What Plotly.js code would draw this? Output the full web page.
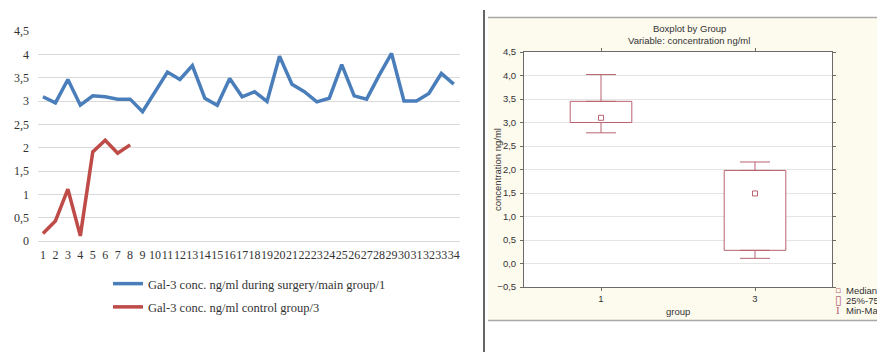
<!DOCTYPE html>
<html>
<head>
<meta charset="utf-8">
<script src="https://cdn.plot.ly/plotly-3.0.1.min.js"></script>
<style>html,body{margin:0;padding:0;background:#fff;}#chart{width:877px;height:352px;}</style>
</head>
<body>
<div id="chart"></div>
<script>
// ---- Left chart data (line chart) ----
const patientIdx = [1,2,3,4,5,6,7,8,9,10,11,12,13,14,15,16,17,18,19,20,21,22,23,24,25,26,27,28,29,30,31,32,33,34];
const mainGroup = [3.09,2.96,3.46,2.91,3.11,3.09,3.04,3.04,2.77,3.2,3.62,3.46,3.76,3.06,2.91,3.48,3.09,3.2,2.99,3.96,3.36,3.2,2.98,3.06,3.78,3.11,3.04,3.55,4.02,3.0,3.0,3.16,3.59,3.36];
const controlIdx = [1,2,3,4,5,6,7,8];
const controlGroup = [0.16,0.43,1.11,0.11,1.91,2.16,1.88,2.06];
const seriesNames = ["Gal-3 conc. ng/ml during surgery/main group/1", "Gal-3 conc. ng/ml control group/3"];

// ---- Right chart data (boxplot summary) ----
const groups = ["1", "3"];
const minVals = [2.78, 0.11];
const q1Vals = [3.0, 0.28];
const medianVals = [3.1, 1.49];
const q3Vals = [3.45, 1.98];
const maxVals = [4.02, 2.16];
const boxLegend = ["Median", "25%-75%", "Min-Max"];

const W = 877, H = 352;
const px = v => v / W;
const py = v => (H - v) / H;

const blue = '#4A7EBB';
const red = '#BE4B48';
const boxColor = '#B9636E';
const serif = 'Liberation Serif, Times New Roman, serif';
const sans = 'Liberation Sans, Arial, sans-serif';

const traces = [
  {x: patientIdx, y: mainGroup, type: 'scatter', mode: 'lines', name: seriesNames[0],
   line: {color: blue, width: 3.5}, xaxis: 'x', yaxis: 'y', legendgroup: 'a'},
  {x: controlIdx, y: controlGroup, type: 'scatter', mode: 'lines', name: seriesNames[1],
   line: {color: red, width: 3.5}, xaxis: 'x', yaxis: 'y', legendgroup: 'b'},
  // box body
  {x: groups, base: q1Vals, y: q3Vals.map((v, i) => v - q1Vals[i]), type: 'bar', width: 0.4,
   marker: {color: '#ffffff', line: {color: boxColor, width: 1}},
   xaxis: 'x2', yaxis: 'y2', showlegend: false, hoverinfo: 'skip'},
  // upper whisker
  {x: groups, y: q3Vals, type: 'scatter', mode: 'markers', marker: {size: 1, opacity: 0},
   error_y: {type: 'data', symmetric: false, array: maxVals.map((v, i) => v - q3Vals[i]),
             arrayminus: groups.map(() => 0), color: boxColor, thickness: 1, width: 15},
   xaxis: 'x2', yaxis: 'y2', showlegend: false, hoverinfo: 'skip'},
  // lower whisker
  {x: groups, y: q1Vals, type: 'scatter', mode: 'markers', marker: {size: 1, opacity: 0},
   error_y: {type: 'data', symmetric: false, array: groups.map(() => 0),
             arrayminus: q1Vals.map((v, i) => v - minVals[i]), color: boxColor, thickness: 1, width: 15},
   xaxis: 'x2', yaxis: 'y2', showlegend: false, hoverinfo: 'skip'},
  // median
  {x: groups, y: medianVals, type: 'scatter', mode: 'markers',
   marker: {symbol: 'square-open', size: 5, color: boxColor, line: {width: 1, color: boxColor}},
   xaxis: 'x2', yaxis: 'y2', showlegend: false}
];

function ann(text, x, y, font, extra) {
  return Object.assign({text: text, xref: 'paper', yref: 'paper', x: px(x), y: py(y),
    xanchor: 'center', yanchor: 'middle', showarrow: false, font: font}, extra || {});
}
const smallFont = {family: sans, size: 9.5, color: '#333'};

const layout = {
  width: W, height: H,
  margin: {l: 0, r: 0, t: 0, b: 0},
  paper_bgcolor: '#ffffff', plot_bgcolor: '#ffffff',
  separators: ',.',
  showlegend: true,
  legend: {x: px(108), y: py(269), xanchor: 'left', yanchor: 'top',
           font: {family: serif, size: 12.5, color: '#333'}, bgcolor: 'rgba(0,0,0,0)',
           traceorder: 'grouped', tracegroupgap: 4},
  xaxis: {domain: [px(38), px(460)], range: [0.6, 34.5], dtick: 1, tick0: 1, tickangle: 0,
          showgrid: false, zeroline: false, showline: false, ticks: '',
          tickfont: {family: serif, size: 12, color: '#333'}, ticklabelstandoff: 5, anchor: 'y'},
  yaxis: {domain: [py(241), py(31)], range: [0, 4.5], dtick: 0.5, tick0: 0,
          gridcolor: '#d9d9d9', gridwidth: 1, zeroline: true, zerolinecolor: '#d9d9d9', zerolinewidth: 1,
          showline: false, ticks: '',
          tickfont: {family: serif, size: 12, color: '#333'}, ticklabelstandoff: 8, anchor: 'x'},
  xaxis2: {domain: [px(524), px(832)], type: 'category', categoryorder: 'array', categoryarray: groups,
           range: [-0.5, 1.5], showgrid: false, zeroline: false,
           showline: true, linecolor: '#6b6b6b', linewidth: 1, mirror: 'ticks',
           ticks: 'outside', ticklen: 3, tickcolor: '#6b6b6b',
           tickfont: {family: sans, size: 9.5, color: '#333'}, anchor: 'y2'},
  yaxis2: {domain: [py(287), py(52)], range: [-0.5, 4.5], dtick: 0.5, tick0: 0, tickformat: '.1f',
           gridcolor: '#e4e4e4', gridwidth: 1, zeroline: false,
           showline: true, linecolor: '#6b6b6b', linewidth: 1, mirror: 'ticks',
           ticks: 'outside', ticklen: 3, tickcolor: '#6b6b6b',
           tickfont: {family: sans, size: 9.5, color: '#333'}, ticklabelstandoff: 2, anchor: 'x2'},
  shapes: [
    {type: 'rect', xref: 'paper', yref: 'paper', x0: px(488), x1: 1, y0: py(320), y1: py(18),
     fillcolor: '#FDFAEE', line: {width: 0}, layer: 'below'},
    {type: 'line', xref: 'paper', yref: 'paper', x0: px(488), x1: 1, y0: py(17.5), y1: py(17.5),
     line: {color: '#a8a8a8', width: 1.5}, layer: 'below'},
    {type: 'line', xref: 'paper', yref: 'paper', x0: px(488), x1: 1, y0: py(320.5), y1: py(320.5),
     line: {color: '#a8a8a8', width: 1.5}, layer: 'below'},
    {type: 'rect', xref: 'x2 domain', yref: 'y2 domain', x0: 0, x1: 1, y0: 0, y1: 1,
     fillcolor: '#ffffff', line: {width: 0}, layer: 'below'},
    {type: 'line', xref: 'paper', yref: 'paper', x0: px(484), x1: px(484), y0: 0, y1: py(10),
     line: {color: '#666', width: 2}, layer: 'above'}
  ],
  annotations: [
    ann('Boxplot by Group', 689, 28, smallFont),
    ann('Variable: concentration ng/ml', 689, 41, smallFont),
    ann('concentration ng/ml', 497, 170, smallFont, {textangle: -90}),
    ann('group', 678, 311, smallFont),
    ann('▫', 838, 290, {family: 'DejaVu Sans', size: 9, color: boxColor}),
    ann('▯', 838, 300, {family: 'DejaVu Sans', size: 12, color: boxColor}),
    ann('I', 838, 310, {family: serif, size: 11, color: boxColor}),
    ann(boxLegend[0], 844, 290, smallFont, {xanchor: 'left'}),
    ann(boxLegend[1], 844, 300, smallFont, {xanchor: 'left'}),
    ann(boxLegend[2], 844, 310, smallFont, {xanchor: 'left'})
  ]
};

Plotly.newPlot('chart', traces, layout, {displayModeBar: false, staticPlot: true});
</script>
</body>
</html>
